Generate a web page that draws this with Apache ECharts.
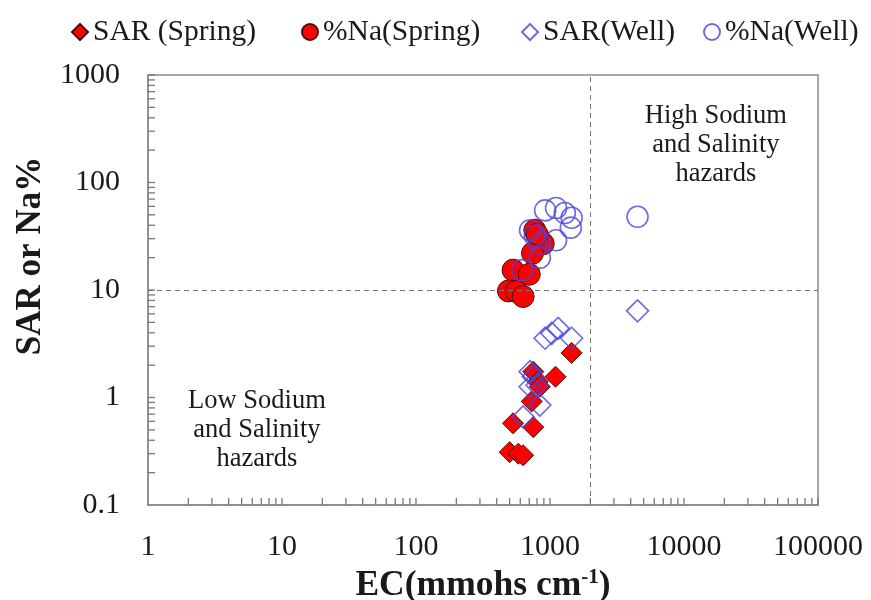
<!DOCTYPE html>
<html>
<head>
<meta charset="utf-8">
<script src="https://cdn.jsdelivr.net/npm/echarts@6/dist/echarts.min.js"></script>
<style>html,body{margin:0;padding:0;background:#fff}#c{width:871px;height:600px}</style>
</head>
<body>
<div id="c"></div>
<script>
// ---- data ----
const sarSpring = [[1450,2.6],[1100,1.56],[750,1.74],[810,1.4],[840,1.26],[730,0.92],[530,0.575],[750,0.53],[500,0.31],[580,0.30],[630,0.29]];
const naSpring = [[770,36],[820,31],[890,27],[740,22],[530,15.3],[700,14],[490,9.8],[560,9.7],[630,8.7],[800,33]];
const sarWell = [[4500,6.4],[920,3.56],[1030,3.95],[1150,4.4],[1450,3.56],[710,1.74],[750,1.56],[710,1.26],[840,0.85],[630,0.66],[800,1.3]];
const naWell = [[4500,48],[920,55],[1110,58],[1290,52],[1450,47],[1430,38],[1110,29],[710,36],[770,32],[840,27],[840,20],[620,15.3]];
const seriesNames = ['SAR (Spring)', '%Na(Spring)', 'SAR(Well)', '%Na(Well)'];
const ecThreshold = 2000;
const sarThreshold = 10;
const xTickLabels = ['1','10','100','1000','10000','100000'];
const yTickLabels = ['0.1','1','10','100','1000'];
const xDecades = [1,10,100,1000,10000];
const yDecades = [0.1,1,10,100];
const annotations = [
  {text:'High Sodium\nand Salinity\nhazards', at:[17300, 225]},
  {text:'Low Sodium\nand Salinity\nhazards', at:[6.5, 0.5]}
];

const xMinor = [];
xDecades.forEach(d => { for (let k = 2; k <= 10; k++) xMinor.push([+(d*k).toPrecision(6), 0.1]); });
const yMinor = [];
yDecades.forEach(d => { for (let k = 2; k <= 10; k++) yMinor.push([1, +(d*k).toPrecision(6)]); });

const FONT = '"Liberation Serif", "Times New Roman", serif';
const chart = echarts.init(document.getElementById('c'));
const red = {color:'#ff0000', borderColor:'#4a1010', borderWidth:1, opacity:1};
const blue = {color:'rgba(255,255,255,0)', borderColor:'rgba(70,70,220,0.8)', borderWidth:1.6, opacity:1};
const legTxt = {fontFamily:FONT, fontSize:29.5, color:'#1a1a1a'};
function leg(i, left, icon){
  return {data:[{name:seriesNames[i], icon:icon}], left:left, top:12, itemWidth:16, itemHeight:16, textStyle:legTxt, selectedMode:false};
}

chart.setOption({
  animation:false,
  backgroundColor:'#fff',
  textStyle:{fontFamily:FONT},
  grid:{left:148, right:53, top:75, bottom:95, show:true, borderColor:'#8a8a8a', borderWidth:1.5, backgroundColor:'transparent', containLabel:false, outerBoundsMode:'none'},
  legend:[leg(0,66,'diamond'), leg(1,296,'circle'), leg(2,516,'diamond'), leg(3,698,'circle')],
  xAxis:{
    type:'log', logBase:10, min:1, max:100000,
    name:'{b|EC(mmohs cm}{s|-1}{b|)}', nameLocation:'middle', nameGap:57,
    nameTextStyle:{rich:{b:{fontFamily:FONT, fontSize:35.5, fontWeight:'bold', color:'#1a1a1a'}, s:{fontFamily:FONT, fontSize:21, fontWeight:'bold', color:'#1a1a1a', verticalAlign:'top', padding:[0,0,16,0]}}},
    axisLine:{show:true, lineStyle:{color:'#8a8a8a', width:1.5}},
    axisTick:{show:false},
    splitLine:{show:false},
    axisLabel:{fontFamily:FONT, fontSize:30, color:'#1a1a1a', margin:27, formatter:v => xTickLabels[Math.round(Math.log10(v))]}
  },
  yAxis:{
    type:'log', logBase:10, min:0.1, max:1000,
    name:'SAR or Na%', nameLocation:'middle', nameGap:100,
    nameTextStyle:{fontFamily:FONT, fontSize:35, fontWeight:'bold', color:'#1a1a1a', padding:[0,0,0,68]},
    axisLine:{show:true, lineStyle:{color:'#8a8a8a', width:1.5}},
    axisTick:{show:false},
    splitLine:{show:false},
    axisLabel:{fontFamily:FONT, fontSize:30, color:'#1a1a1a', margin:28, formatter:v => yTickLabels[Math.round(Math.log10(v))+1]}
  },
  series:[
    {type:'scatter', name:'xminor', data:xMinor, symbol:'rect', symbolSize:[1.3,7], symbolOffset:[0,-3.5], itemStyle:{color:'#777', opacity:1}, silent:true, clip:false, z:1},
    {type:'scatter', name:'yminor', data:yMinor, symbol:'rect', symbolSize:[7,1.3], symbolOffset:[3.5,0], itemStyle:{color:'#777', opacity:1}, silent:true, clip:false, z:1},
    {type:'scatter', name:'annot', data:annotations.map(a => ({value:a.at, label:{formatter:a.text}})), symbolSize:0, silent:true, clip:false, z:2,
      itemStyle:{opacity:1},
      label:{show:true, position:'inside', fontFamily:FONT, fontSize:26.5, color:'#1a1a1a', lineHeight:29, align:'center', verticalAlign:'middle'}},
    {type:'scatter', name:seriesNames[0], data:sarSpring, symbol:'diamond', symbolSize:21, itemStyle:red, z:3,
      markLine:{silent:true, symbol:'none', label:{show:false}, lineStyle:{color:'#777', type:[5,4], width:1},
        data:[{xAxis:ecThreshold},{yAxis:sarThreshold}]}},
    {type:'scatter', name:seriesNames[1], data:naSpring, symbol:'circle', symbolSize:22, itemStyle:red, z:3},
    {type:'scatter', name:seriesNames[2], data:sarWell, symbol:'diamond', symbolSize:22, itemStyle:blue, z:4},
    {type:'scatter', name:seriesNames[3], data:naWell, symbol:'circle', symbolSize:21, itemStyle:blue, z:4}
  ]
});
</script>
</body>
</html>
